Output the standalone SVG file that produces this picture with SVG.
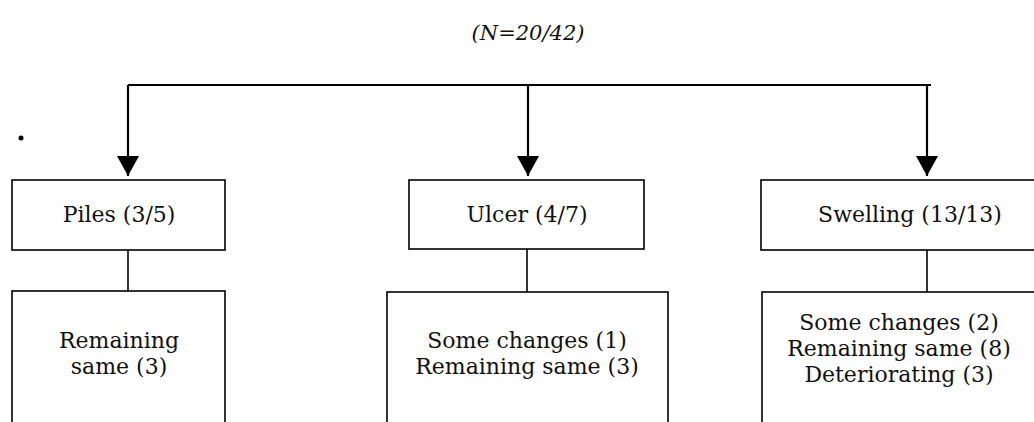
<svg xmlns="http://www.w3.org/2000/svg" width="1034" height="422" viewBox="0 0 1034 422">
  <style>
    .box { fill: #fff; stroke: #000; stroke-width: 1.6; }
    .wire { fill: none; stroke: #000; stroke-width: 2.2; }
    .link { fill: none; stroke: #000; stroke-width: 1.6; }
    .lbl { font-family: "DejaVu Serif", "Liberation Serif", serif; font-size: 22px; fill: #111; text-anchor: middle; }
    .title { font-family: "DejaVu Serif", "Liberation Serif", serif; font-size: 21px; font-style: italic; fill: #111; text-anchor: middle; }
  </style>
  <defs>
    <!-- solid triangular head, tip at the end of the line -->
    <marker id="arrow" viewBox="0 0 20 22" refX="20" refY="11" markerWidth="20" markerHeight="22" markerUnits="userSpaceOnUse" orient="auto">
      <path d="M0,0 L20,11 L0,22 Z" fill="#000"/>
    </marker>
  </defs>
  <rect width="1034" height="422" fill="#fff"/>

  <text class="title" x="528" y="40">(N=20/42)</text>
  <circle cx="21" cy="138" r="2.5" fill="#000"/>

  <!-- connectors -->
  <g id="connectors">
    <path class="wire" d="M128,85 H931"/>
    <path class="wire" d="M128,85 V176" marker-end="url(#arrow)"/>
    <path class="wire" d="M528,85 V176" marker-end="url(#arrow)"/>
    <path class="wire" d="M927,85 V176" marker-end="url(#arrow)"/>
    <path class="link" d="M128,250 V291"/>
    <path class="link" d="M527,249 V292"/>
    <path class="link" d="M927,250 V292"/>
  </g>

  <g id="piles">
    <rect class="box" x="12" y="180" width="213" height="70"/>
    <text class="lbl" x="119" y="222">Piles (3/5)</text>
  </g>
  <g id="ulcer">
    <rect class="box" x="409" y="180" width="235" height="69"/>
    <text class="lbl" x="527" y="222">Ulcer (4/7)</text>
  </g>
  <g id="swelling">
    <rect class="box" x="761" y="180" width="290" height="70"/>
    <text class="lbl" x="910" y="222">Swelling (13/13)</text>
  </g>

  <g id="piles-outcome">
    <rect class="box" x="12" y="291" width="213" height="150"/>
    <text class="lbl" x="119" y="348">Remaining</text>
    <text class="lbl" x="119" y="374">same (3)</text>
  </g>
  <g id="ulcer-outcome">
    <rect class="box" x="387" y="292" width="281" height="150"/>
    <text class="lbl" x="527" y="348">Some changes (1)</text>
    <text class="lbl" x="527" y="374">Remaining same (3)</text>
  </g>
  <g id="swelling-outcome">
    <rect class="box" x="762" y="292" width="290" height="150"/>
    <text class="lbl" x="899" y="330">Some changes (2)</text>
    <text class="lbl" x="899" y="356">Remaining same (8)</text>
    <text class="lbl" x="899" y="382">Deteriorating (3)</text>
  </g>
</svg>
